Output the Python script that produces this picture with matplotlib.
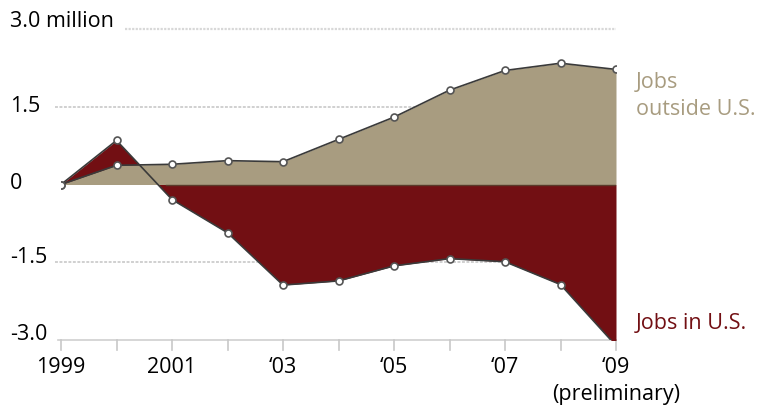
import numpy as np
import matplotlib
matplotlib.use("Agg")
import matplotlib.pyplot as plt
from matplotlib.transforms import blended_transform_factory

years = [1999, 2000, 2001, 2002, 2003, 2004, 2005, 2006, 2007, 2008, 2009]
jobs_outside = [0.0, 0.37, 0.39, 0.46, 0.44, 0.87, 1.30, 1.82, 2.20, 2.34, 2.22]
jobs_us = [0.0, 0.85, -0.29, -0.93, -1.94, -1.86, -1.57, -1.43, -1.49, -1.93, -3.11]
ytick_vals = [3.0, 1.5, 0, -1.5, -3.0]
ytick_labels = ["3.0 million", "1.5", "0", "-1.5", "-3.0"]
xtick_vals = [1999, 2001, 2003, 2005, 2007, 2009]
xtick_labels = ["1999", "2001", "\u201803", "\u201805", "\u201807", "\u201809"]

TAN = "#a89c80"; RED = "#720f13"; LINE = "#3a3a3a"
plt.rcParams["font.family"] = ["Open Sans", "DejaVu Sans"]
FS = 15.5

W, H = 775, 408
fig = plt.figure(figsize=(W/100, H/100), dpi=100)
ax = fig.add_axes([61/W, 1-340/H, (616-61)/W, (340-29)/H])
ax.set_xlim(1999, 2009); ax.set_ylim(-3, 3)
ax.axis("off")
PX = 6.0/311  # data units per pixel

x = np.array(years, dtype=float)
# faint gridlines
ax.plot([2000.15, 2009], [3.0, 3.0], color="#d8d8d8", lw=1.6, ls=(0, (1, 0.6)), zorder=0, clip_on=False)
for g in (1.5, -1.5):
    ax.plot([1998.9, 2009], [g, g], color="#d0d0d0", lw=1.4, ls=(0, (1.5, 0.8)), zorder=0, clip_on=False)
# bottom axis with ticks
ax.plot([1998.95, 2009], [-3.0, -3.0], color="#cfcfcf", lw=1.2, zorder=0, clip_on=False)
for yr in years:
    ax.plot([yr, yr], [-3.0, -3.2], color="#c8c8c8", lw=1.2, zorder=0, clip_on=False)

ax.fill_between(x, 0, jobs_us, color=RED, lw=0, zorder=1)
ax.fill_between(x, 0, jobs_outside, color=TAN, lw=0, zorder=2)
ax.axhline(0, xmin=0.19, xmax=1, color="#5a3a2a", lw=1.0, zorder=2.5)
ax.plot(x, jobs_us, color=LINE, lw=1.2, zorder=3, marker="o", ms=5, mfc="white", mec="#555555", mew=1.2)
ax.plot(x, jobs_outside, color=LINE, lw=1.2, zorder=4, marker="o", ms=5, mfc="white", mec="#555555", mew=1.2)

tr = blended_transform_factory(fig.transFigure, ax.transData)
y_offsets_px = [2, -5, -4, -1, 0]
for v, lab, off in zip(ytick_vals, ytick_labels, y_offsets_px):
    ax.text(10/W, v + off*PX, lab, transform=tr, ha="left", va="baseline", fontsize=FS, color="black", clip_on=False)
for v, lab in zip(xtick_vals, xtick_labels):
    ax.text(v, -3.0 - 33*PX, lab, ha="center", va="baseline", fontsize=FS, color="black", clip_on=False)
ax.text(2009, -3.0 - 60*PX, "(preliminary)", ha="center", va="baseline", fontsize=FS, color="black", clip_on=False)

ax.text(636/W, 1-88/H, "Jobs", transform=fig.transFigure, ha="left", va="baseline", fontsize=FS, color=TAN)
ax.text(636/W, 1-115/H, "outside U.S.", transform=fig.transFigure, ha="left", va="baseline", fontsize=FS, color=TAN)
ax.text(636/W, 1-329/H, "Jobs in U.S.", transform=fig.transFigure, ha="left", va="baseline", fontsize=FS, color=RED)

fig.savefig("out.png", dpi=100)
